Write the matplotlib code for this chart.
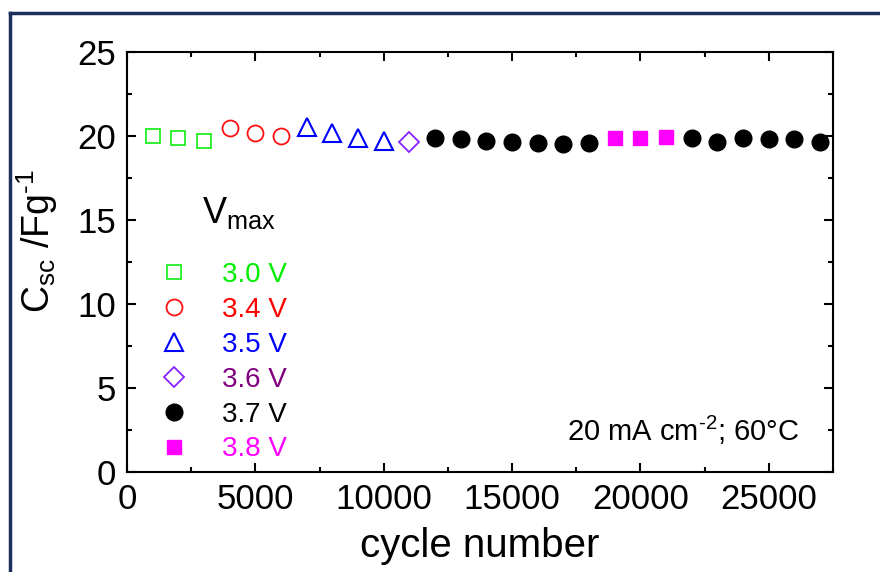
import matplotlib
matplotlib.use("Agg")
import matplotlib.pyplot as plt
from matplotlib.lines import Line2D
from matplotlib.ticker import MultipleLocator

plt.rcParams['font.family'] = ['Liberation Sans', 'DejaVu Sans']
plt.rcParams['mathtext.fontset'] = 'custom'
plt.rcParams['mathtext.rm'] = 'Liberation Sans'
plt.rcParams['mathtext.it'] = 'Liberation Sans'
plt.rcParams['mathtext.default'] = 'regular'

#capacitance, grouped by max voltage
v30_x = [1000, 2000, 3000]
v30_y = [20.0, 19.9, 19.7]
v34_x = [4000, 5000, 6000]
v34_y = [20.45, 20.2, 20.0]
v35_x = [7000, 8000, 9000, 10000]
v35_y = [20.55, 20.15, 19.9, 19.7]
v36_x = [11000]
v36_y = [19.65]
v37_x = [12000, 13000, 14000, 15000, 16000, 17000, 18000,
         22000, 23000, 24000, 25000, 26000, 27000]
v37_y = [19.86, 19.82, 19.72, 19.62, 19.56, 19.54, 19.56,
         19.9, 19.64, 19.9, 19.84, 19.8, 19.62]
v38_x = [19000, 20000, 21000]
v38_y = [19.86, 19.9, 19.96]

labels = ["3.0 V", "3.4 V", "3.5 V", "3.6 V", "3.7 V", "3.8 V"]
text_colors = ["#00ee00", "#ff0000", "#0000ff", "#800080", "#000000", "#ff00ff"]

fig = plt.figure(figsize=(8.8, 5.72), dpi=100)
ax = fig.add_axes([127/880, 1-472/572, 706/880, 420/572])

h30, = ax.plot(v30_x, v30_y, 's', ls='none', ms=9.8, mfc='none', mec='#22ee22', mew=1.3)
h34, = ax.plot(v34_x, v34_y, 'o', ls='none', ms=11.5, mfc='none', mec='#ff1111', mew=1.3)
h35, = ax.plot(v35_x, v35_y, '^', ls='none', ms=12.5, mfc='none', mec='#0000ff', mew=1.5)
h36, = ax.plot(v36_x, v36_y, 'D', ls='none', ms=10, mfc='none', mec='#8822ff', mew=1.3)
h37, = ax.plot(v37_x, v37_y, 'o', ls='none', ms=12, color='black')
h38, = ax.plot(v38_x, v38_y, 's', ls='none', ms=10.5, color='#ff00ff')

ax.set_xlim(0, 27500)
ax.set_ylim(0, 25)
ax.xaxis.set_major_locator(MultipleLocator(5000))
ax.xaxis.set_minor_locator(MultipleLocator(2500))
ax.yaxis.set_major_locator(MultipleLocator(5))
ax.yaxis.set_minor_locator(MultipleLocator(2.5))
ax.tick_params(which='both', direction='in', top=True, right=True, width=1.5)
ax.tick_params(which='major', length=6.5, labelsize=25, pad=8)
ax.tick_params(which='minor', length=3.5)
for s in ax.spines.values():
    s.set_linewidth(1.5)

ax.set_xlabel("cycle number", fontsize=29, labelpad=8)
ax.set_ylabel(r"C$_{sc}$ /Fg$^{\text{-1}}$", fontsize=27)
ax.yaxis.set_label_coords(-0.095, 0.55)

ax.text(0.953, 0.098, r"20 mA cm$^{\text{-2}}$; 60°C", transform=ax.transAxes,
        ha='right', va='center', fontsize=21)

#legend title drawn as its own text so the gap matches
ax.text(0.106, 0.593, "V$_{max}$", transform=ax.transAxes, ha='left',
        va='baseline', fontsize=26)
ax.legend([h30, h34, h35, h36, h37, h38], labels, loc='upper left',
          bbox_to_anchor=(0.047, 0.50), frameon=False, fontsize=20,
          labelcolor=text_colors, handlelength=1.0, handletextpad=1.22,
          labelspacing=0.32, borderpad=0, borderaxespad=0)

#frame around the figure (only left and top edges show)
fig.add_artist(Line2D([10/880, 10/880], [0, 1-13/572], color='#1a2f5a', lw=2.5))
fig.add_artist(Line2D([10/880, 1], [1-13/572, 1-13/572], color='#1a2f5a', lw=2.5))

fig.savefig("out.png", dpi=100)
